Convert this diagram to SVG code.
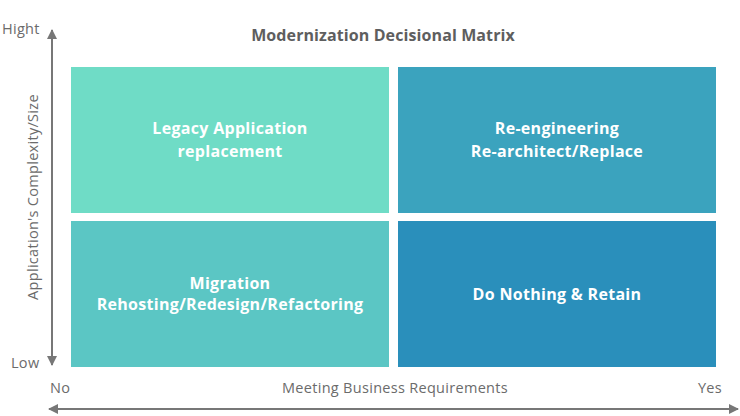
<svg xmlns="http://www.w3.org/2000/svg" width="740" height="416" viewBox="0 0 740 416">
<style>
.q{font-family:"Open Sans","Liberation Sans",sans-serif;font-weight:bold;font-size:16px;letter-spacing:0.3px;fill:#fff;text-anchor:middle}
.ax{font-family:"Open Sans","Liberation Sans",sans-serif;font-size:14.5px;letter-spacing:0.3px;fill:#6b6b6b}
.t{font-family:"Open Sans","Liberation Sans",sans-serif;font-weight:bold;font-size:16px;letter-spacing:0.1px;fill:#5e5e5e;text-anchor:middle}
.line{stroke:#777;stroke-width:2;fill:none}
</style>
<defs>
<marker id="ah" viewBox="0 0 10 10" refX="9" refY="5" markerWidth="5" markerHeight="5" orient="auto-start-reverse" markerUnits="strokeWidth"><path d="M0,0 L10,5 L0,10 z" fill="#777"/></marker>
</defs>
<text class="t" x="383" y="41">Modernization Decisional Matrix</text>
<g id="q-tl"><rect x="71" y="67" width="318" height="146" fill="#6fdcc6"/><text class="q" x="230" y="134">Legacy Application</text><text class="q" x="230" y="157">replacement</text></g>
<g id="q-tr"><rect x="398" y="67" width="318" height="146" fill="#3ba3be"/><text class="q" x="557" y="134">Re-engineering</text><text class="q" x="557" y="157">Re-architect/Replace</text></g>
<g id="q-bl"><rect x="71" y="221" width="318" height="146" fill="#5bc6c4"/><text class="q" x="230" y="289">Migration</text><text class="q" x="230" y="310">Rehosting/Redesign/Refactoring</text></g>
<g id="q-br"><rect x="398" y="221" width="318" height="146" fill="#2a8fbb"/><text class="q" x="557" y="300">Do Nothing &amp; Retain</text></g>
<g id="connectors">
<line class="line" x1="52" y1="30" x2="52" y2="365" marker-start="url(#ah)" marker-end="url(#ah)"/>
<line class="line" x1="49" y1="409" x2="738" y2="409" marker-start="url(#ah)" marker-end="url(#ah)"/>
</g>
<text class="ax" x="2" y="34">Hight</text>
<text class="ax" x="11" y="368">Low</text>
<text class="ax" x="50" y="393">No</text>
<text class="ax" x="722" y="393" text-anchor="end">Yes</text>
<text class="ax" x="395" y="393" text-anchor="middle">Meeting Business Requirements</text>
<text class="ax" transform="translate(38,197) rotate(-90)" text-anchor="middle">Application's Complexity/Size</text>
</svg>
